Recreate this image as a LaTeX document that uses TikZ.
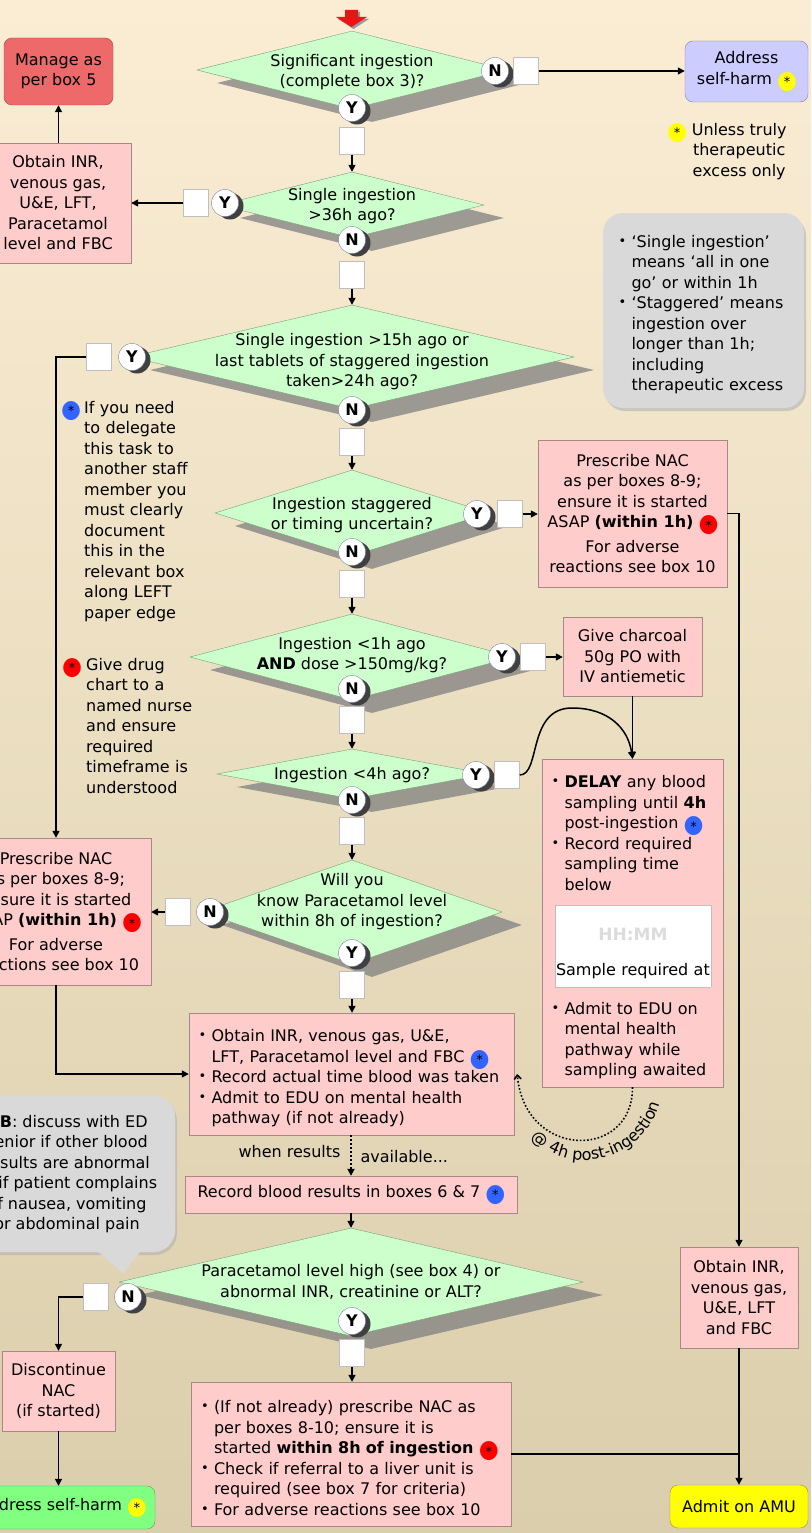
\documentclass[tikz,border=0pt]{standalone}
\usepackage{fontspec}
\setmainfont{DejaVu Sans}
\usepackage{graphicx}
\usetikzlibrary{arrows.meta,positioning,shapes.geometric,shadows,decorations.text}

\definecolor{bgTop}   {RGB}{250,237,212}
\definecolor{bgBot}   {RGB}{218,206,172}
\definecolor{decFill} {RGB}{204,255,204}
\definecolor{decLine} {RGB}{120,160,120}
\definecolor{boxFill} {RGB}{255,204,204}
\definecolor{boxLine} {RGB}{170,135,135}
\definecolor{mngFill} {RGB}{238,106,106}
\definecolor{mngLine} {RGB}{160, 70, 70}
\definecolor{adrFill} {RGB}{204,204,255}
\definecolor{adrLine} {RGB}{130,130,170}
\definecolor{grnFill} {RGB}{128,255,128}
\definecolor{grnLine} {RGB}{ 90,160, 90}
\definecolor{amuFill} {RGB}{255,255,  0}
\definecolor{amuLine} {RGB}{150,150, 60}
\definecolor{noteFill}{RGB}{217,217,217}
\definecolor{ynLine}  {RGB}{120,130,170}
\definecolor{startRed}{RGB}{235, 20, 20}
\definecolor{starYel} {RGB}{255,255,  0}
\definecolor{starBlu} {RGB}{ 50,100,255}
\definecolor{starRed} {RGB}{255,  0,  0}
\definecolor{hhGrey}  {RGB}{220,220,220}

% coloured dot with an asterisk
\newcommand{\dstar}[1]{\mbox{\hspace{1pt}\rlap{\makebox[18pt]{\raisebox{-4pt}{\textcolor{#1}{\resizebox*{20pt}{19pt}{●}}}}}%
  \makebox[18pt]{\raisebox{-2.5pt}{\fontsize{13}{13}\selectfont *}}}}
% bullet item, lines broken with \newline
\newcommand{\bul}{\par\noindent\hangindent=13pt\hangafter=1%
  \makebox[13pt][l]{\raisebox{2pt}{\fontsize{13}{13}\selectfont •}}\ignorespaces}

\begin{document}
\begin{tikzpicture}[x=1pt,y=-1pt,
  every node/.style={font=\fontsize{16}{20.5}\selectfont},
  dec/.style={diamond,draw=decLine,fill=decFill,inner sep=0pt,
    drop shadow={shadow xshift=20pt,shadow yshift=-13pt,fill=black!50,opacity=.75}},
  yn/.style={circle,draw=ynLine,fill=white,minimum size=27pt,inner sep=0pt,
    font=\fontsize{16}{16}\selectfont\bfseries,
    drop shadow={shadow xshift=5pt,shadow yshift=-3pt,fill=black!75,opacity=1}},
  chk/.style={draw=black!25,fill=white,minimum width=25pt,minimum height=27pt,inner sep=0pt},
  pbox/.style={draw=boxLine,fill=boxFill,align=center,inner sep=0pt},
  rbox/.style={rounded corners=8pt,align=center,inner sep=0pt},
  flow/.style={line width=1.5pt,-{Triangle[length=7pt,width=7pt]}},
  link/.style={line width=1.5pt}
]
\useasboundingbox (0,0) rectangle (811,1533);
\clip (0,0) rectangle (811,1533);
\shade[top color=bgTop,bottom color=bgBot] (0,0) rectangle (811,1533);

% start arrow
\fill[black!40] (347,12) -- (360,12) -- (360,19) -- (369,19) -- (353.5,29) -- (338,19) -- (347,19) -- cycle;
\fill[startRed] (345,10) -- (358,10) -- (358,17) -- (367,17) -- (351.5,27) -- (336,17) -- (345,17) -- cycle;

% decisions
\node[dec,minimum width=310pt,minimum height=78pt]  (d1) at (352,70)   {};
\node[dec,minimum width=264pt,minimum height=66pt]  (d2) at (352,205)  {};
\node[dec,minimum width=444pt,minimum height=104pt] (d3) at (352,357)  {};
\node[dec,minimum width=274pt,minimum height=86pt]  (d4) at (352,513)  {};
\node[dec,minimum width=324pt,minimum height=86pt]  (d5) at (352,657)  {};
\node[dec,minimum width=270pt,minimum height=50pt]  (d6) at (352,774)  {};
\node[dec,minimum width=300pt,minimum height=104pt] (d7) at (352,912)  {};
\node[dec,minimum width=464pt,minimum height=108pt] (d8) at (351,1282) {};

\node[align=center] (d1t) at (352,72)   {Significant ingestion\\(complete box 3)?};
\node[align=center] (d2t) at (352,206)  {Single ingestion\\>36h ago?};
\node[align=center] (d3t) at (352,362)  {Single ingestion >15h ago or\\last tablets of staggered ingestion\\taken>24h ago?};
\node[align=center] (d4t) at (352,515)  {Ingestion staggered\\or timing uncertain?};
\node[align=center] (d5t) at (352,655)  {Ingestion <1h ago\\\textbf{AND} dose >150mg/kg?};
\node[align=center] (d6t) at (352,775)  {Ingestion <4h ago?};
\node[align=center] (d7t) at (352,902)  {Will you\\know Paracetamol level\\within 8h of ingestion?};
\node[align=center] (d8t) at (351,1282) {Paracetamol level high (see box 4) or\\abnormal INR, creatinine or ALT?};

% answers
\node[yn] (n1) at (495,71)  {N};  \node[chk] (s1n) at (526,71)  {};
\node[yn] (y1) at (352,108) {Y};  \node[chk] (s1y) at (352,141) {};
\node[yn] (y2) at (225,203) {Y};  \node[chk] (s2y) at (196,203) {};
\node[yn] (n2) at (352,240) {N};  \node[chk] (s2n) at (352,275) {};
\node[yn] (y3) at (132,357) {Y};  \node[chk] (s3y) at (99,357)  {};
\node[yn] (n3) at (352,410) {N};  \node[chk] (s3n) at (352,442) {};
\node[yn] (y4) at (477,514) {Y};  \node[chk] (s4y) at (510,514) {};
\node[yn] (n4) at (352,552) {N};  \node[chk] (s4n) at (352,584) {};
\node[yn] (y5) at (502,657) {Y};  \node[chk] (s5y) at (533,657) {};
\node[yn] (n5) at (352,689) {N};  \node[chk] (s5n) at (352,720) {};
\node[yn] (y6) at (476,775) {Y};  \node[chk] (s6y) at (507,775) {};
\node[yn] (n6) at (352,800) {N};  \node[chk] (s6n) at (352,831) {};
\node[yn] (n7) at (210,912) {N};  \node[chk] (s7n) at (178,912) {};
\node[yn] (y7) at (352,953) {Y};  \node[chk] (s7y) at (352,985) {};
\node[yn] (n8) at (128,1297){N};  \node[chk] (s8n) at (96,1297) {};
\node[yn] (y8) at (352,1321){Y};  \node[chk] (s8y) at (352,1353){};

% action boxes
\node[rbox,draw=mngLine,fill=mngFill,minimum width=109pt,minimum height=67pt] (mng) at (58.5,71.5) {Manage as\\per box 5};
\node[rbox,draw=adrLine,fill=adrFill,minimum width=123pt,minimum height=61pt] (adr) at (746.5,71.5) {Address\\self-harm \dstar{starYel}};
\node[pbox,minimum width=146pt,minimum height=120pt] (b1) at (58,203) {Obtain INR,\\venous gas,\\U\&E, LFT,\\Paracetamol\\level and FBC};
\node[pbox,minimum width=189pt,minimum height=147pt] (b3) at (632.5,513.5)
  {Prescribe NAC\\as per boxes 8-9;\\ensure it is started\\ASAP \textbf{(within 1h)} \dstar{starRed}\\[4pt]For adverse\\reactions see box 10};
\node[pbox,minimum width=139pt,minimum height=79pt] (b4) at (632.5,656.5) {Give charcoal\\50g PO with\\IV antiemetic};
\node[pbox,text width=162pt,inner xsep=9.5pt,minimum height=328pt,align=left] (b5) at (632.5,923)
  {\bul\textbf{DELAY} any blood\newline sampling until \textbf{4h}\newline post-ingestion \dstar{starBlu}
   \bul Record required\newline sampling time\newline below\par
   \vspace{14pt}\noindent\hspace*{3pt}{\setlength{\fboxsep}{0pt}\fcolorbox{black!25}{white}{\parbox[c][81pt][t]{156pt}{\centering
     \vspace*{22.5pt}{\fontsize{17}{20.5}\selectfont\bfseries\color{hhGrey}HH:MM}\\[14.7pt]Sample required at}}}\par
   \vspace{14pt}
   \bul Admit to EDU on\newline mental health\newline pathway while\newline sampling awaited\par};
\node[pbox,minimum width=190pt,minimum height=147pt] (b2) at (56,911.5)
  {Prescribe NAC\\as per boxes 8-9;\\ensure it is started\\ASAP \textbf{(within 1h)} \dstar{starRed}\\[4pt]For adverse\\reactions see box 10};
\node[pbox,text width=306pt,inner xsep=9.5pt,minimum height=122pt,align=left] (b6) at (351.5,1074)
  {\bul Obtain INR, venous gas, U\&E,\newline LFT, Paracetamol level and FBC \dstar{starBlu}
   \bul Record actual time blood was taken
   \bul Admit to EDU on mental health\newline pathway (if not already)\par};
\node[pbox,minimum width=332pt,minimum height=37pt] (b8) at (351,1194.5) {Record blood results in boxes 6 \& 7 \dstar{starBlu}};
\node[pbox,minimum width=113pt,minimum height=80pt] (b9) at (58.5,1391) {Discontinue\\NAC\\(if started)};
\node[pbox,text width=300pt,inner xsep=10pt,minimum height=144pt,align=left] (b10) at (351,1454)
  {\bul (If not already) prescribe NAC as\newline per boxes 8-10; ensure it is\newline started \textbf{within 8h of ingestion} \dstar{starRed}
   \bul Check if referral to a liver unit is\newline required (see box 7 for criteria)
   \bul For adverse reactions see box 10\par};
\node[pbox,minimum width=118pt,minimum height=101pt] (b7) at (739,1297.5) {Obtain INR,\\venous gas,\\U\&E, LFT\\and FBC};
\node[rbox,draw=amuLine,fill=amuFill,minimum width=138pt,minimum height=43pt] (amu) at (739,1506.5) {Admit on AMU};
\node[rbox,draw=grnLine,fill=grnFill,minimum width=186pt,minimum height=43pt] (grn) at (62,1507.5) {Address self-harm \dstar{starYel}};

% notes
\node[anchor=north west,inner sep=0pt] (noteY) at (667,123)
  {\dstar{starYel}\hspace{3pt}\parbox[t]{100pt}{\centering Unless truly\\therapeutic\\excess only}};
\node[fill=noteFill,rounded corners=20pt,text width=170pt,inner xsep=15.5pt,minimum height=195pt,align=left,
  drop shadow={shadow xshift=2pt,shadow yshift=-3pt,fill=black!30,opacity=.6}] (defs) at (703.5,310.5)
  {\bul ‘Single ingestion’\newline means ‘all in one\newline go’ or within 1h
   \bul ‘Staggered’ means\newline ingestion over\newline longer than 1h;\newline including\newline therapeutic excess\par};
\node[anchor=north west,inner sep=0pt,text width=140pt,align=left] (noteB) at (61,401)
  {\hangindent=23pt\hangafter=1\noindent\makebox[23pt][l]{\dstar{starBlu}}If you need\newline to delegate\newline this task to\newline another staff\newline member you\newline must clearly\newline document\newline this in the\newline relevant box\newline along LEFT\newline paper edge\par};
\node[anchor=north west,inner sep=0pt,text width=140pt,align=left] (noteR) at (62,658)
  {\hangindent=24pt\hangafter=1\noindent\makebox[24pt][l]{\dstar{starRed}}Give drug\newline chart to a\newline named nurse\newline and ensure\newline required\newline timeframe is\newline understood\par};
\node[draw=black!15,fill=noteFill,rounded corners=22pt,minimum width=216pt,minimum height=156pt,align=center,
  drop shadow={shadow xshift=2pt,shadow yshift=-3pt,fill=black!30,opacity=.6}] (nb) at (67,1174)
  {\textbf{NB}: discuss with ED\\senior if other blood\\results are abnormal\\or if patient complains\\of nausea, vomiting\\or abdominal pain};
\fill[noteFill] (98,1251) -- (123,1273) -- (140,1251) -- cycle;
\draw[black!15] (98,1252) -- (123,1273) -- (140,1252);

% connectors
\draw[flow] (s1n.east) -- (s1n.east -| adr.west);
\draw[flow] (s1y) -- (d2.north);
\draw[flow] (s2y) -- (s2y -| b1.east);
\draw[flow] (b1.north -| mng.south) -- (mng.south);
\draw[flow] (s2n) -- (d3.north);
\draw[flow] (s3y) -| (b2.north);
\draw[flow] (s3n) -- (d4.north);
\draw[flow] (s4y) -- (s4y -| b3.west);
\draw[flow] (s4n) -- (d5.north);
\draw[flow] (s5y) -- (s5y -| b4.west);
\draw[flow] (s5n) -- (d6.north);
\draw[flow] (s6y.east) .. controls (541,775) and (527,708) .. (572,708) .. controls (608,708) and (628,728) .. (b5.north);
\draw[flow] (b4.south) -- (b4.south |- b5.north);
\draw[flow] (s6n) -- (d7.north);
\draw[flow] (s7n) -- (s7n -| b2.east);
\draw[flow] (s7y) -- (s7y |- b6.north);
\draw[flow] (b2.south) |- (b6.west);
\draw[flow] (b3.east) -| (b7.north);
\draw[line width=1.6pt,dotted,-{Straight Barb[length=4pt,width=7pt]}] (b5.south) .. controls (633,1160) and (525,1160) .. ([xshift=3pt]b6.east);
\path[decorate,decoration={text along path,text align=center,
  text={|\fontsize{16}{16}\selectfont|@ 4h post-ingestion}}] (585,1082) ++(150:78) arc[start angle=150,end angle=0,radius=78];
\draw[line width=2pt,dash pattern=on 2pt off 2pt,-{Triangle[length=7pt,width=7pt]}] (b6.south -| d8.north) -- (b8.north -| d8.north);
\node[anchor=east] (wres) at (344,1152) {when results};
\node[anchor=west] (wav)  at (357,1157) {available...};
\draw[flow] (b8.south -| d8.north) -- (d8.north);
\draw[flow] (s8n) -| (b9.north);
\draw[flow] (s8y) -- (s8y |- b10.north);
\draw[flow] (b9.south) -- (b9.south |- grn.north);
\draw[flow] (b7.south) -- (amu.north);
\draw[link] (b10.east) -- (b10.east -| b7.south);
\end{tikzpicture}
\end{document}
